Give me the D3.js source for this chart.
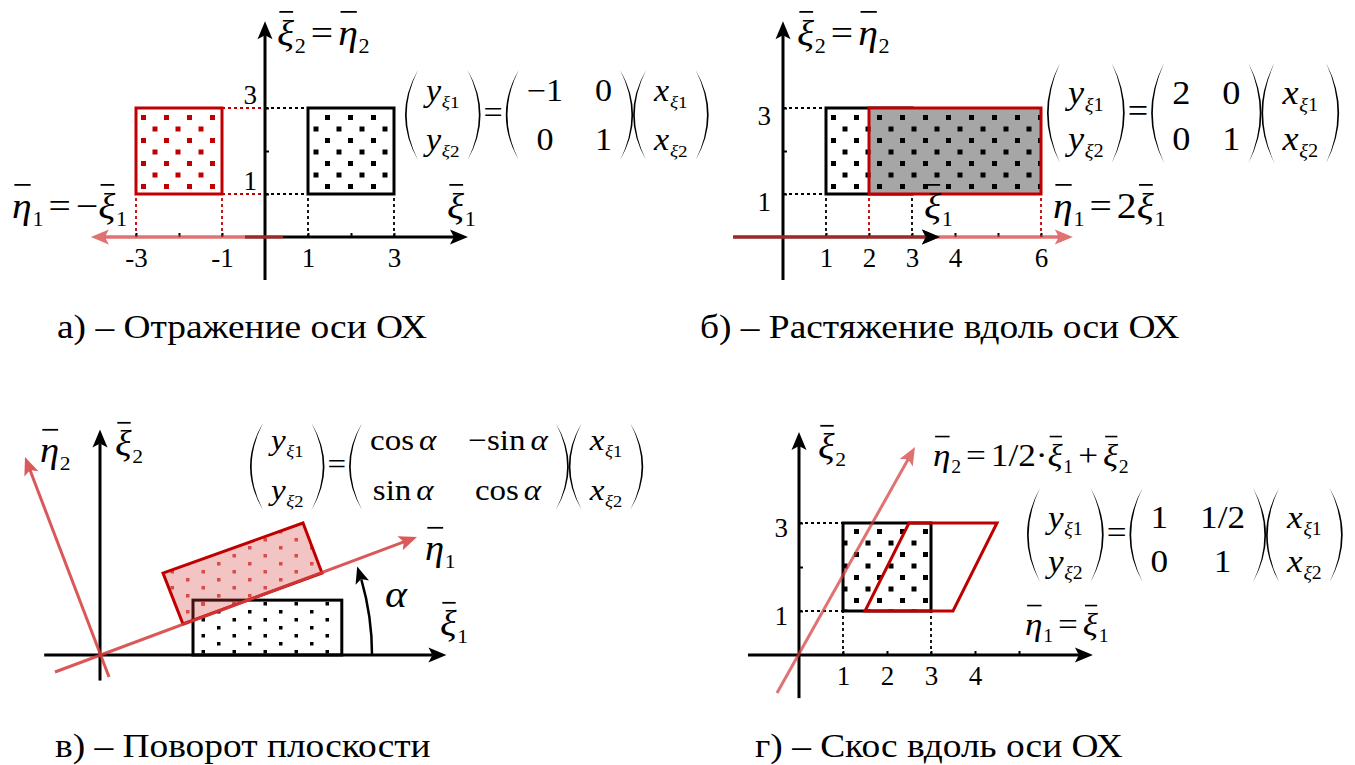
<!DOCTYPE html>
<html>
<head>
<meta charset="utf-8">
<script src="https://cdn.jsdelivr.net/npm/d3@7"></script>
</head>
<body style="margin:0;background:#fff">
<svg id="chart" width="1355" height="765"></svg>
<script>
// ---- а) reflection
const aSquare = { x: [1, 3], y: [1, 3] };
const aImage = { x: [-3, -1], y: [1, 3] };
const aXTicks = [-3, -2, -1, 1, 2, 3];
const aXLabels = ["-3", "", "-1", "1", "", "3"];
const aYTicks = [1, 2, 3];
const aYLabels = ["1", "", "3"];
const aMatrix = [["−1", "0"], ["0", "1"]];

// ---- б) stretch
const bSquare = { x: [1, 3], y: [1, 3] };
const bImage = { x: [2, 6], y: [1, 3] };
const bXTicks = [1, 2, 3, 4, 5, 6];
const bXLabels = ["1", "2", "3", "4", "", "6"];
const bYTicks = [1, 2, 3];
const bYLabels = ["1", "", "3"];
const bMatrix = [["2", "0"], ["0", "1"]];

// ---- в) rotation
const cRect = { x: [2, 5.2], y: [0, 1.18] };
const cImage = [[1.785, 0.667], [4.774, 1.763], [4.366, 2.839], [1.355, 1.763]];
const cEta1 = [[-0.968, -0.366], [6.817, 2.538]];
const cEta2 = [[0.194, -0.473], [-1.613, 4.258]];
const cAlpha = 19; // deg, arc arrow
const cArcR = 5.85;
const cMatrix = [["cos α", "−sin α"], ["sin α", "cos α"]];

// ---- г) shear
const dSquare = { x: [1, 3], y: [1, 3] };
const dImage = [[1.5, 1], [3.5, 1], [4.5, 3], [2.5, 3]];
const dEta2 = [[-0.5, -0.864], [2.636, 4.727]];
const dXTicks = [1, 2, 3, 4, 5];
const dXLabels = ["1", "2", "3", "4", ""];
const dYTicks = [1, 2, 3];
const dYLabels = ["1", "", "3"];
const dMatrix = [["1", "1/2"], ["0", "1"]];

const captions = [
  "а) – Отражение оси ОХ",
  "б) – Растяжение вдоль оси ОХ",
  "в) – Поворот плоскости",
  "г) – Скос вдоль оси ОХ",
];

const FONT = "Liberation Serif";
const RED = "#c00000";
const ARW = "#d43c3c";
const GRAY = "#a6a6a6";
const SX = 1.1; // the source picture is a bit wider than tall
const FS_TICK = 27;
const FS_LBL = 36;
const FS_CAP = 34;

const svg = d3.select("#chart").style("font-family", FONT);
const defs = svg.append("defs");

function dotPattern(id, w, h, s, color, ox, oy) {
  const p = defs.append("pattern").attr("id", id)
    .attr("patternUnits", "userSpaceOnUse").attr("width", w).attr("height", h)
    .attr("x", ox).attr("y", oy);
  p.append("rect").attr("x", 0).attr("y", 0).attr("width", s).attr("height", s).attr("fill", color);
  p.append("rect").attr("x", w / 2).attr("y", h / 2).attr("width", s).attr("height", s).attr("fill", color);
}
dotPattern("dotsK", 23, 23, 5, "#000", 3, 0);
dotPattern("dotsR", 23, 23, 5, RED, 3, 0);
dotPattern("dotsKs", 31, 16, 3.5, "#000", 0, 2);
dotPattern("dotsRs", 31, 16, 3.5, "#d94a4a", 0, 2);

function frame(ox, oy, ux, uy) {
  return {
    x: d3.scaleLinear().domain([0, 1]).range([ox, ox + ux]),
    y: d3.scaleLinear().domain([0, 1]).range([oy, oy - uy]),
  };
}

function seg(g, s, p, q, color, w, dash) {
  return g.append("line")
    .attr("x1", s.x(p[0])).attr("y1", s.y(p[1]))
    .attr("x2", s.x(q[0])).attr("y2", s.y(q[1]))
    .attr("stroke", color).attr("stroke-width", w)
    .attr("stroke-dasharray", dash || null);
}

function head(g, x1, y1, x2, y2, color, op, L = 18, W = 7.5) {
  const a = Math.atan2(y2 - y1, x2 - x1) * 180 / Math.PI;
  g.append("path")
    .attr("d", `M0,0 L${-L},${-W} L${-L * 0.78},0 L${-L},${W} Z`)
    .attr("transform", `translate(${x2},${y2}) rotate(${a})`)
    .attr("fill", color).attr("opacity", op);
}

function arrow(g, s, p, q, color, w, op) {
  const x1 = s.x(p[0]), y1 = s.y(p[1]), x2 = s.x(q[0]), y2 = s.y(q[1]);
  const len = Math.hypot(x2 - x1, y2 - y1), k = (len - 14) / len;
  g.append("line").attr("x1", x1).attr("y1", y1)
    .attr("x2", x1 + (x2 - x1) * k).attr("y2", y1 + (y2 - y1) * k)
    .attr("stroke", color).attr("stroke-width", w).attr("opacity", op);
  head(g, x1, y1, x2, y2, color, op);
}

function rect(g, s, r, fill, stroke) {
  return g.append("rect")
    .attr("x", s.x(r.x[0])).attr("y", s.y(r.y[1]))
    .attr("width", s.x(r.x[1]) - s.x(r.x[0])).attr("height", s.y(r.y[0]) - s.y(r.y[1]))
    .attr("fill", fill).attr("stroke", stroke).attr("stroke-width", stroke ? 3 : 0);
}

function poly(g, s, pts, fill, stroke) {
  return g.append("path")
    .attr("d", d3.line().x(d => s.x(d[0])).y(d => s.y(d[1]))(pts) + "Z")
    .attr("fill", fill).attr("stroke", stroke).attr("stroke-width", stroke ? 3 : 0);
}

function styleAxis(sel) {
  sel.attr("font-size", FS_TICK).attr("font-family", FONT);
  sel.select(".domain").remove();
  sel.selectAll(".tick line").attr("stroke", "#000").attr("stroke-width", 2);
  sel.selectAll(".tick text").attr("fill", "#000").style("font-family", FONT);
}

function ticks(g, s, xt, xl, yt, yl, ydy, ypad) {
  g.append("g").attr("transform", `translate(0,${s.y(0)})`)
    .call(d3.axisBottom(s.x).tickValues(xt).tickFormat((d, i) => xl[i])
      .tickSizeInner(-4).tickSizeOuter(0).tickPadding(11))
    .call(styleAxis);
  g.append("g").attr("transform", `translate(${s.x(0)},0)`)
    .call(d3.axisLeft(s.y).tickValues(yt).tickFormat((d, i) => yl[i])
      .tickSizeInner(-4).tickSizeOuter(0).tickPadding(ypad))
    .call(styleAxis)
    .selectAll(".tick text").attr("dy", ydy);
}

// ---- math text
function put(g, x, y, str, size, it) {
  const t = g.append("text").attr("x", x).attr("y", y).attr("font-size", size)
    .style("font-family", FONT)
    .attr("font-style", it ? "italic" : "normal").text(str);
  return t.node().getComputedTextLength();
}

const place = (grp, x, y) => grp.attr("transform", `translate(${x},${y}) scale(${SX},1)`);

function math(g, x, y, toks, size) {
  const grp = g.append("g");
  place(grp, x, y);
  let cx = 0;
  toks.forEach(tk => {
    if (tk.gap) { cx += tk.gap / SX; return; }
    const w = put(grp, cx, 0, tk.s, size, tk.it);
    if (tk.bar) {
      grp.append("line")
        .attr("x1", cx + size * 0.06).attr("x2", cx + w * 0.95)
        .attr("y1", -size * 0.92).attr("y2", -size * 0.92)
        .attr("stroke", "#000").attr("stroke-width", size * 0.05);
    }
    cx += w;
    if (tk.sub) {
      cx += size * 0.02;
      tk.sub.forEach(sb => { cx += put(grp, cx, size * 0.22, sb.s, size * 0.56, sb.it); });
    }
  });
  return { grp, w: cx * SX };
}

const bar = (s, n) => ({ s, it: true, bar: true, sub: [{ s: n }] });
const op = (s, gap = 5) => [{ gap }, { s }, { gap }];

function cellToks(str) {
  const toks = [];
  str.split(" ").forEach((p, i) => {
    if (i) toks.push({ gap: 5 });
    toks.push({ s: p, it: p === "α" });
  });
  return toks;
}
const vec = (v, n) => [{ s: v, it: true, sub: [{ s: "ξ", it: true }, { s: n }] }];

const PW = 13, PAD = 8, COLGAP = 32;
function paren(g, x, top, bot, left) {
  const mid = (top + bot) / 2, t = 1.7;
  const d = left
    ? `M${x + PW},${top} Q${x - PW},${mid} ${x + PW},${bot} Q${x - PW + 2 * t},${mid} ${x + PW},${top}Z`
    : `M${x},${top} Q${x + 2 * PW},${mid} ${x},${bot} Q${x + 2 * PW - 2 * t},${mid} ${x},${top}Z`;
  g.append("path").attr("d", d).attr("fill", "#000");
}

function block(g, x, top, bot, rows, size, cols) {
  paren(g, x, top, bot, true);
  let cx = x + PW + PAD;
  cols.forEach((col, j) => {
    if (j) cx += COLGAP;
    const items = col.map((cell, i) => math(g, 0, rows[i], cell, size));
    const cw = d3.max(items, it => it.w);
    items.forEach((it, i) => place(it.grp, cx + (cw - it.w) / 2, rows[i]));
    cx += cw;
  });
  cx += PAD;
  paren(g, cx, top, bot, false);
  return cx + PW;
}

function equation(g, x, top, bot, rows, size, M) {
  let cx = block(g, x, top, bot, rows, size, [[vec("y", "1"), vec("y", "2")]]);
  cx += 3;
  cx += math(g, cx, (top + bot) / 2 + size * 0.26, [{ s: "=" }], size).w + 3;
  const cols = M[0].map((_, j) => [cellToks(M[0][j]), cellToks(M[1][j])]);
  cx = block(g, cx, top, bot, rows, size, cols);
  block(g, cx, top, bot, rows, size, [[vec("x", "1"), vec("x", "2")]]);
}

function caption(g, x, y, str) {
  const grp = g.append("g");
  place(grp, x, y);
  grp.append("text").attr("font-size", FS_CAP).style("font-family", FONT).text(str);
}

// ================= а)
{
  const s = frame(265, 237, 43, 43);
  const g = svg.append("g");
  aSquare.y.forEach(v => seg(g, s, [0, v], [aSquare.x[0], v], "#000", 1.8, "3,3"));
  aImage.y.forEach(v => seg(g, s, [aImage.x[1], v], [0, v], RED, 1.8, "3,3"));
  aSquare.x.forEach(v => seg(g, s, [v, 0], [v, aSquare.y[0]], "#000", 1.8, "3,3"));
  aImage.x.forEach(v => seg(g, s, [v, 0], [v, aImage.y[0]], RED, 1.8, "3,3"));
  rect(g, s, aSquare, "#fff", null);
  rect(g, s, aSquare, "url(#dotsK)", "#000");
  rect(g, s, aImage, "#fff", null);
  rect(g, s, aImage, "url(#dotsR)", RED);
  arrow(g, s, [-0.465, 0], [4.72, 0], "#000", 3, 1);
  arrow(g, s, [0, -1], [0, 5.02], "#000", 3, 1);
  ticks(g, s, aXTicks, aXLabels, aYTicks, aYLabels, "-0.18em", 8);
  arrow(g, s, [0.42, 0], [-4.05, 0], ARW, 3.5, 0.72);
  math(g, 277, 45, [bar("ξ", "2"), ...op("="), bar("η", "2")], FS_LBL);
  math(g, 12, 218, [bar("η", "1"), ...op("="), { s: "−" }, bar("ξ", "1")], FS_LBL);
  math(g, 447, 218, [bar("ξ", "1")], FS_LBL);
  equation(g, 405, 70, 160, [101, 150], 31, aMatrix);
  caption(g, 57, 338, captions[0]);
}

// ================= б)
{
  const s = frame(783, 237, 43, 43);
  const g = svg.append("g");
  bSquare.y.forEach(v => seg(g, s, [0, v], [bSquare.x[0], v], "#000", 1.8, "3,3"));
  bSquare.x.forEach(v => seg(g, s, [v, 0], [v, bSquare.y[0]], "#000", 1.8, "3,3"));
  bImage.x.forEach(v => seg(g, s, [v, 0], [v, bImage.y[0]], RED, 1.8, "3,3"));
  rect(g, s, bSquare, "#fff", null);
  rect(g, s, bSquare, "url(#dotsK)", "#000");
  rect(g, s, bImage, GRAY, null);
  rect(g, s, bImage, "url(#dotsK)", RED);
  arrow(g, s, [0, -1], [0, 5.02], "#000", 3, 1);
  arrow(g, s, [-1.16, 0], [3.65, 0], "#000", 3, 1);
  ticks(g, s, bXTicks, bXLabels, bYTicks, bYLabels, "0.6em", 12);
  arrow(g, s, [-1.16, 0], [6.74, 0], ARW, 3.5, 0.72);
  head(g, s.x(0), s.y(0), s.x(3.65), s.y(0), "#000", 1);
  math(g, 797, 45, [bar("ξ", "2"), ...op("="), bar("η", "2")], FS_LBL);
  math(g, 924, 218, [bar("ξ", "1")], FS_LBL);
  math(g, 1053, 218, [bar("η", "1"), ...op("="), { s: "2" }, bar("ξ", "1")], FS_LBL);
  equation(g, 1047, 63, 163, [104, 150], 33, bMatrix);
  caption(g, 700, 338, captions[1]);
}

// ================= в)
{
  const s = frame(100, 655, 46.5, 46.5);
  const g = svg.append("g");
  rect(g, s, cRect, "#fff", null);
  rect(g, s, cRect, "url(#dotsKs)", "#000");
  poly(g, s, cImage, "rgba(215,60,60,0.3)", null);
  poly(g, s, cImage, "url(#dotsRs)", RED);
  arrow(g, s, [-1.2, 0], [7.45, 0], "#000", 3, 1);
  arrow(g, s, [0, -0.55], [0, 4.85], "#000", 3, 1);
  arrow(g, s, cEta1[0], cEta1[1], ARW, 3, 0.85);
  arrow(g, s, cEta2[0], cEta2[1], ARW, 3, 0.85);
  // angle arc
  const r = s.x(cArcR) - s.x(0), a = cAlpha * Math.PI / 180;
  const p = d3.path();
  p.arc(s.x(0), s.y(0), r, 0, -a + 0.05, true);
  g.append("path").attr("d", p.toString()).attr("fill", "none").attr("stroke", "#000").attr("stroke-width", 2.5);
  const ex = s.x(0) + r * Math.cos(a), ey = s.y(0) - r * Math.sin(a);
  const bx = s.x(0) + r * Math.cos(a - 0.06), by = s.y(0) - r * Math.sin(a - 0.06);
  head(g, bx, by, ex, ey, "#000", 1, 17, 7);
  math(g, 385, 607, [{ s: "α", it: true }], 38);
  math(g, 40, 462, [bar("η", "2")], 35);
  math(g, 115, 455, [bar("ξ", "2")], 35);
  math(g, 425, 560, [bar("η", "1")], 35);
  math(g, 440, 635, [bar("ξ", "1")], 35);
  equation(g, 250, 423, 510, [450, 500], 30, cMatrix);
  caption(g, 55, 757, captions[2]);
}

// ================= г)
{
  const s = frame(799, 655, 44, 44);
  const g = svg.append("g");
  dSquare.y.forEach(v => seg(g, s, [0, v], [dSquare.x[0], v], "#000", 1.8, "3,3"));
  dSquare.x.forEach(v => seg(g, s, [v, 0], [v, dSquare.y[0]], "#000", 1.8, "3,3"));
  rect(g, s, dSquare, "#fff", null);
  rect(g, s, dSquare, "url(#dotsK)", "#000");
  poly(g, s, dImage, "none", RED);
  arrow(g, s, [-1.16, 0], [6.68, 0], "#000", 3, 1);
  arrow(g, s, [0, -0.98], [0, 5.07], "#000", 3, 1);
  ticks(g, s, dXTicks, dXLabels, dYTicks, dYLabels, "0.5em", 11);
  arrow(g, s, dEta2[0], dEta2[1], ARW, 3, 0.72);
  math(g, 818, 458, [bar("ξ", "2")], 35);
  math(g, 933, 466, [bar("η", "2"), ...op("=", 5), { s: "1/2" }, { s: "·" }, bar("ξ", "1"), ...op("+", 5), bar("ξ", "2")], 32);
  math(g, 1025, 635, [bar("η", "1"), ...op("=", 5), bar("ξ", "1")], 32);
  equation(g, 1027, 488, 582, [528, 572], 32, dMatrix);
  caption(g, 755, 757, captions[3]);
}
</script>
</body>
</html>
